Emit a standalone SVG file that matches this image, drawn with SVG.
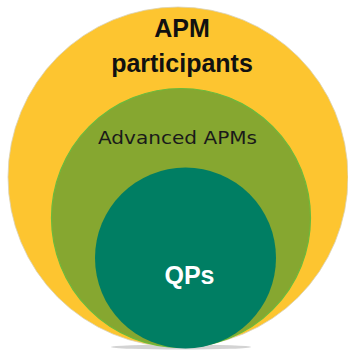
<svg xmlns="http://www.w3.org/2000/svg" width="348" height="350" viewBox="0 0 348 350">
  <style>
    .t { font-family: "Liberation Sans", Arial, sans-serif; text-anchor: middle; }
    .big { font-size: 25px; font-weight: bold; fill: #111; }
    .mid { font-family: "DejaVu Sans", "Liberation Sans", sans-serif; font-size: 17px; fill: #1a1a1a; }
    .qp { font-size: 25px; font-weight: bold; fill: #ffffff; }
  </style>
  <rect width="348" height="350" fill="#ffffff"/>
  <g id="shadow">
    <ellipse cx="181" cy="347" rx="70" ry="2.5" fill="#c8c8c8" opacity="0.8"/>
  </g>
  <g id="apm-participants">
    <circle cx="178" cy="177" r="170" fill="#fdc530" stroke="#d9d2b8" stroke-width="0.8"/>
    <text class="t big" x="182" y="37">APM</text>
    <text class="t big" x="182" y="72">participants</text>
  </g>
  <g id="advanced-apms">
    <circle cx="181" cy="218" r="129.5" fill="#86a730" stroke="#6cba3c" stroke-width="1.2"/>
    <text class="t mid" x="177.5" y="144" textLength="159" lengthAdjust="spacingAndGlyphs">Advanced APMs</text>
  </g>
  <g id="qps">
    <circle cx="185.5" cy="258" r="90.5" fill="#007e63"/>
    <text class="t qp" x="189.5" y="284">QPs</text>
  </g>
  <g id="connectors"/>
</svg>
